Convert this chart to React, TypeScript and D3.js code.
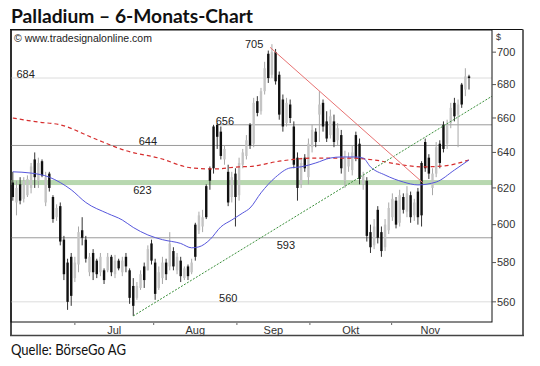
import { useEffect, useRef } from "react";
import * as d3 from "d3";

// open, high, low, close per trading day (index 0 = early June)
const candles: [number, number, number, number][] = [
  [623, 629, 613, 615], [612, 624, 605, 620], [622, 626, 611, 613], [614, 626, 612, 624],
  [616, 627, 615, 625], [620, 634, 617, 632], [636, 640, 620, 626], [624, 637, 620, 634],
  [635, 636, 626, 627], [612, 629, 610, 626], [628, 629, 618, 620], [615, 616, 601, 603],
  [604, 611, 602, 609], [610, 612, 589, 591], [592, 594, 571, 574], [580, 582, 556, 560],
  [583, 585, 558, 563], [572, 583, 570, 580], [579, 599, 575, 596], [597, 604, 589, 593],
  [592, 594, 580, 582], [575, 585, 573, 583], [585, 587, 571, 575], [581, 582, 572, 574],
  [575, 585, 573, 583], [576, 577, 569, 571], [576, 585, 575, 583], [583, 584, 573, 575],
  [574, 584, 572, 581], [581, 582, 576, 577], [575, 583, 573, 581], [583, 585, 575, 578],
  [576, 577, 559, 562], [568, 572, 553, 558], [562, 570, 561, 568], [567, 576, 566, 574],
  [578, 580, 567, 571], [576, 589, 576, 587], [590, 592, 579, 581], [580, 582, 561, 564],
  [567, 578, 566, 575], [572, 583, 569, 580], [580, 582, 571, 574], [578, 596, 576, 590],
  [586, 588, 576, 578], [576, 585, 574, 583], [581, 583, 570, 573], [572, 578, 571, 577],
  [578, 579, 571, 573], [575, 582, 574, 580], [600, 601, 581, 583], [597, 607, 595, 605],
  [599, 608, 596, 604], [621, 622, 603, 604], [631, 632, 619, 624], [655, 656, 628, 631],
  [656, 657, 642, 649], [652, 655, 636, 638], [636, 644, 633, 642], [629, 633, 610, 612],
  [615, 629, 612, 626], [628, 631, 599, 615], [616, 637, 613, 634], [633, 642, 631, 640],
  [638, 650, 636, 647], [656, 657, 642, 644], [645, 672, 643, 669], [670, 673, 661, 663],
  [664, 678, 662, 676], [676, 694, 674, 690], [699, 701, 681, 684], [686, 705, 684, 700],
  [700, 702, 680, 682], [686, 688, 659, 662], [671, 674, 652, 655], [657, 672, 655, 669],
  [668, 671, 657, 660], [655, 658, 631, 633], [637, 640, 613, 620], [622, 637, 620, 634],
  [637, 639, 629, 631], [626, 648, 622, 645], [643, 656, 640, 653], [652, 654, 643, 646],
  [662, 676, 646, 668], [669, 671, 652, 655], [658, 664, 646, 648], [650, 665, 648, 661],
  [658, 662, 643, 646], [647, 657, 644, 654], [650, 653, 628, 631], [624, 641, 620, 637],
  [632, 640, 629, 637], [630, 644, 627, 640], [650, 652, 635, 637], [645, 648, 622, 625],
  [622, 629, 619, 627], [624, 626, 591, 594], [596, 600, 585, 588], [589, 603, 587, 599],
  [608, 610, 590, 593], [596, 599, 583, 586], [588, 603, 586, 600], [597, 612, 595, 609],
  [604, 617, 602, 614], [613, 615, 598, 600], [601, 619, 599, 616], [615, 617, 606, 608],
  [607, 621, 604, 617], [616, 618, 601, 604], [605, 614, 602, 612], [618, 620, 600, 604],
  [634, 635, 599, 605], [646, 648, 629, 631], [637, 639, 625, 628], [620, 631, 616, 628],
  [628, 646, 626, 643], [645, 647, 631, 634], [656, 658, 640, 642], [645, 659, 642, 656],
  [657, 669, 654, 666], [669, 672, 658, 661], [662, 671, 643, 668], [680, 681, 666, 668],
  [677, 690, 673, 685], [685, 686, 677, 684],
];

// [bar index, value]
const blueMa: [number, number][] = [
  [0, 629], [5, 628.3], [10, 626], [13, 623], [16, 619], [20, 612], [26, 606], [30, 602.5],
  [33, 598.5], [37, 594.5], [41, 592], [46, 590], [49, 587.7], [51, 588.2], [54, 592],
  [57, 598.8], [60, 602.5], [63, 606.3], [65, 609], [68, 617.3], [72, 626], [76, 631.2],
  [79, 631.8], [83, 634], [87, 636.8], [90, 637.4], [94, 637.4], [96, 636.8], [98, 631.8],
  [102, 627.2], [107, 623.3], [111, 621.7], [116, 623.3], [121, 630], [125, 635.7],
];
const redMa: [number, number][] = [
  [0, 660], [7, 657.6], [13, 656], [22, 648.3], [31, 641], [40, 636.8], [49, 631.2],
  [55, 630.6], [62, 631.8], [65, 632], [73, 635], [83, 636.8], [92, 636.8], [99, 635.7],
  [107, 632.8], [112, 631.8], [118, 632.3], [125, 635.7],
];
const greenTrend: [number, number][] = [[33, 553], [131.3, 673]];
const redTrend: [number, number][] = [[70.5, 703], [112.3, 623]];

// horizontal marks; "at" is the bar index the label sits on
const levels = [
  { value: 684, label: "684", at: 1, from: -0.5, kind: "light", below: false },
  { value: 656, label: "656", at: 55.6, from: 56, kind: "line", below: false },
  { value: 644, label: "644", at: 34.5, from: -0.5, kind: "line", below: false },
  { value: 623, label: "623", at: 33, from: -0.5, kind: "band", below: true },
  { value: 593, label: "593", at: 72.3, from: -0.5, kind: "line", below: true },
  { value: 560, label: "560", at: 56.5, from: -0.5, kind: "light", below: false },
];
const peak = { value: 705, label: "705", at: 63.6 };

const yTicks = [560, 580, 600, 620, 640, 660, 680, 700];
const months = ["Jul", "Aug", "Sep", "Okt", "Nov"];
const monthStarts = [17, 38.6, 61.4, 81.4, 103.8, 125];

const FONT = "'Liberation Sans', Arial, sans-serif";

export default function App() {
  const svgRef = useRef<SVGSVGElement>(null);

  useEffect(() => {
    if (!svgRef.current) return;
    const svg = d3.select(svgRef.current);
    svg.selectAll("*").remove();

    const left = 11, right = 492, top = 30, bottom = 322;
    const x = d3.scaleLinear().domain([-0.5, 131.3]).range([left, right]);
    const y = d3.scaleLog().domain([550, 714]).range([bottom, top]);

    // title
    svg.append("text")
      .attr("x", 11).attr("y", 23)
      .attr("font-family", "Lato, 'Liberation Sans', sans-serif")
      .attr("font-weight", "bold").attr("font-size", 19)
      .attr("textLength", 242).attr("lengthAdjust", "spacingAndGlyphs")
      .attr("fill", "#111")
      .text("Palladium – 6-Monats-Chart");

    svg.append("text")
      .attr("x", 11).attr("y", 355)
      .attr("font-family", "Lato, 'Liberation Sans', sans-serif")
      .attr("font-size", 15)
      .attr("textLength", 115).attr("lengthAdjust", "spacingAndGlyphs")
      .attr("fill", "#111")
      .text("Quelle: BörseGo AG");

    // outer frame
    svg.append("line").attr("x1", 10).attr("x2", 523).attr("y1", 29.5).attr("y2", 29.5)
      .attr("stroke", "#111").attr("stroke-width", 1.2);
    svg.append("line").attr("x1", 11).attr("x2", 11).attr("y1", 29.5).attr("y2", 336)
      .attr("stroke", "#111").attr("stroke-width", 1.5);
    svg.append("line").attr("x1", 523).attr("x2", 523).attr("y1", 29.5).attr("y2", 336)
      .attr("stroke", "#666").attr("stroke-width", 2);
    svg.append("line").attr("x1", 10).attr("x2", 524).attr("y1", 335.5).attr("y2", 335.5)
      .attr("stroke", "#444").attr("stroke-width", 1.6);

    const g = svg.append("g");

    // levels
    levels.forEach((lv) => {
      const yy = y(lv.value);
      if (lv.kind === "band") {
        g.append("rect")
          .attr("x", left).attr("width", right - left)
          .attr("y", yy - 2.5).attr("height", 5)
          .attr("fill", "#b8d8b0");
      } else {
        g.append("line")
          .attr("x1", x(lv.from)).attr("x2", right)
          .attr("y1", yy).attr("y2", yy)
          .attr("stroke", lv.kind === "light" ? "#dcdcdc" : "#9a9a9a")
          .attr("stroke-width", 1);
      }
    });

    // candles
    candles.forEach(([o, h, l, c], i) => {
      const cx = x(i);
      const down = c < o;
      g.append("line")
        .attr("x1", cx).attr("x2", cx)
        .attr("y1", y(h)).attr("y2", y(l))
        .attr("stroke", down ? "#333" : "#a8a8a8").attr("stroke-width", 1);
      const y0 = Math.min(y(o), y(c));
      g.append("rect")
        .attr("x", cx - 1.2).attr("width", 2.4)
        .attr("y", y0).attr("height", Math.max(1, Math.abs(y(o) - y(c))))
        .attr("fill", down ? "#111" : "#c4c4c4");
    });

    const line = d3.line<[number, number]>()
      .x((d) => x(d[0]))
      .y((d) => y(d[1]))
      .curve(d3.curveMonotoneX);

    g.append("path").datum(redMa).attr("d", line)
      .attr("fill", "none").attr("stroke", "#d62e2e")
      .attr("stroke-width", 1.2).attr("stroke-dasharray", "4,3");
    g.append("path").datum(blueMa).attr("d", line)
      .attr("fill", "none").attr("stroke", "#5656dc").attr("stroke-width", 1);

    const straight = d3.line<[number, number]>().x((d) => x(d[0])).y((d) => y(d[1]));
    g.append("path").datum(greenTrend).attr("d", straight)
      .attr("fill", "none").attr("stroke", "#3a8f3a")
      .attr("stroke-width", 1).attr("stroke-dasharray", "2,1.5");
    g.append("path").datum(redTrend).attr("d", straight)
      .attr("fill", "none").attr("stroke", "#e87272").attr("stroke-width", 1);

    // level labels
    levels.forEach((lv) => {
      g.append("text")
        .attr("x", x(lv.at))
        .attr("y", y(lv.value) + (lv.below ? 11.5 : 0))
        .attr("font-family", FONT).attr("font-size", 11).attr("fill", "#222")
        .text(lv.label);
    });
    g.append("text")
      .attr("x", x(peak.at)).attr("y", y(peak.value) + 4)
      .attr("font-family", FONT).attr("font-size", 11).attr("fill", "#222")
      .text(peak.label);

    // watermark
    g.append("text")
      .attr("x", 14).attr("y", 42)
      .attr("font-family", FONT).attr("font-size", 10.5).attr("fill", "#222")
      .text("© www.tradesignalonline.com");

    // plot frame
    g.append("rect")
      .attr("x", left).attr("y", top)
      .attr("width", right - left).attr("height", bottom - top)
      .attr("fill", "none").attr("stroke", "#111").attr("stroke-width", 1);

    // right axis
    const ax = g.append("g").attr("transform", `translate(${right},0)`);
    yTicks.forEach((t) => {
      ax.append("line").attr("x1", 0).attr("x2", 4)
        .attr("y1", y(t)).attr("y2", y(t)).attr("stroke", "#555");
      ax.append("text")
        .attr("x", 5).attr("y", y(t)).attr("dy", "0.35em")
        .attr("font-family", FONT).attr("font-size", 11).attr("fill", "#333")
        .text(String(t));
    });
    ax.append("text").attr("x", 4).attr("y", 40)
      .attr("font-family", FONT).attr("font-size", 9).attr("fill", "#333").text("$");

    // month axis
    monthStarts.slice(0, months.length).forEach((m) => {
      g.append("line").attr("x1", x(m)).attr("x2", x(m))
        .attr("y1", bottom + 1).attr("y2", bottom + 3)
        .attr("stroke", "#666");
    });
    months.forEach((m, k) => {
      g.append("text")
        .attr("x", x((monthStarts[k] + monthStarts[k + 1]) / 2))
        .attr("y", 333.5)
        .attr("text-anchor", "middle")
        .attr("font-family", FONT).attr("font-size", 11).attr("fill", "#333")
        .text(m);
    });
  }, []);

  return (
    <svg
      ref={svgRef}
      width={540}
      height={366}
      style={{ position: "absolute", left: 0, top: 0, background: "#fff" }}
    />
  );
}
